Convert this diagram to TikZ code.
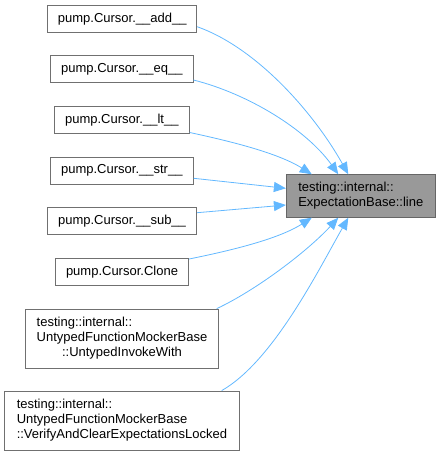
\documentclass[tikz,border=0pt]{standalone}
\usepackage{fontspec}
\setmainfont{Liberation Sans}
\usetikzlibrary{arrows.meta}
\definecolor{edgeblue}{HTML}{63B8FF}
\definecolor{boxgray}{HTML}{707070}
\definecolor{targetfill}{HTML}{999999}
\definecolor{targetdraw}{HTML}{666666}
\begin{document}
\begin{tikzpicture}[x=1pt,y=-1pt,
  every node/.style={font=\fontsize{13}{15}\selectfont, inner sep=0pt, text=black},
  srcbox/.style={draw=boxgray, fill=white, line width=0.8pt, minimum height=27pt},
  tgtbox/.style={draw=targetdraw, fill=targetfill, line width=0.8pt, minimum height=42.6pt, minimum width=149pt},
  edge/.style={draw=edgeblue, line width=0.8pt, -{Triangle[length=12pt,width=10pt]}, edgeblue}]
\useasboundingbox (0,0) rectangle (440,456);

\node[srcbox, minimum width=149pt] (add) at (122.2,18.7) {pump.Cursor.\_\_add\_\_};
\node[srcbox, minimum width=142.3pt] (eq) at (121.9,69.2) {pump.Cursor.\_\_eq\_\_};
\node[srcbox, minimum width=135pt] (lt) at (121.8,120) {pump.Cursor.\_\_lt\_\_};
\node[srcbox, minimum width=143pt] (str) at (121.8,170.4) {pump.Cursor.\_\_str\_\_};
\node[srcbox, minimum width=149.4pt] (sub) at (122,221.2) {pump.Cursor.\_\_sub\_\_};
\node[srcbox, minimum width=133.4pt] (clone) at (122,271.8) {pump.Cursor.Clone};
\node[srcbox, minimum width=193.4pt, minimum height=59.3pt] (invoke) at (122,338.7)
  {\begin{tabular}{@{}l@{}}testing::internal::\\UntypedFunctionMockerBase\\\multicolumn{1}{@{}c@{}}{::UntypedInvokeWith}\end{tabular}};
\node[srcbox, minimum width=234.3pt, minimum height=59pt] (verify) at (121.9,420.5)
  {\begin{tabular}{@{}l@{}}testing::internal::\\UntypedFunctionMockerBase\\\multicolumn{1}{@{}c@{}}{::VerifyAndClearExpectationsLocked}\end{tabular}};
\node[tgtbox] (target) at (360.8,196)
  {\begin{tabular}{@{}l@{}}testing::internal::\\\multicolumn{1}{@{}c@{}}{ExpectationBase::line}\end{tabular}};

\draw[edge] ([yshift=-8pt]add.east) .. controls (256.7,47.7) and (314,113) .. ([xshift=-12.5pt]target.north);
\draw[edge] ([yshift=-10.8pt]eq.east) .. controls (248.3,93.8) and (306.4,129.5) .. ([xshift=-22.5pt]target.north);
\draw[edge] ([yshift=-12.5pt]lt.east) .. controls (229.3,141) and (277.7,152.8) .. ([xshift=-49pt]target.north);
\draw[edge] ([yshift=-7.9pt]str.east) -- ([yshift=7.7pt]target.west);
\draw[edge] ([yshift=8.5pt]sub.east) -- ([yshift=-9pt]target.west);
\draw[edge] ([yshift=12.8pt]clone.east) .. controls (228.5,251) and (277.7,239.5) .. ([xshift=-49pt]target.south);
\draw[edge] ([xshift=94.7pt]invoke.north) .. controls (257.2,289.6) and (307.7,250.9) .. ([xshift=-22.5pt]target.south);
\draw[edge] ([xshift=99.8pt]verify.north) .. controls (273.3,361.1) and (318.3,270.2) .. ([xshift=-12.5pt]target.south);
\end{tikzpicture}
\end{document}
